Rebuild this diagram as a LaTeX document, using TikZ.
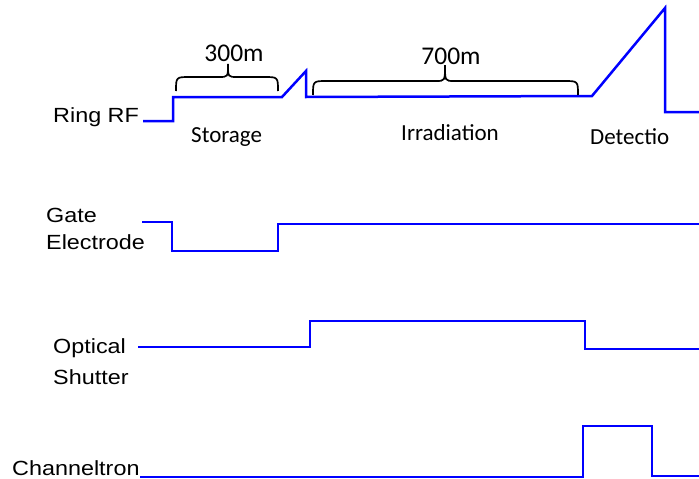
\documentclass[tikz,border=0pt]{standalone}
\usepackage{fontspec}
\setmainfont{Liberation Sans}
\newfontfamily\labfont[FakeStretch=1.14]{Liberation Sans}
\newfontfamily\calfont{Carlito}
\begin{document}
\begin{tikzpicture}[x=1pt,y=-1pt,
  lab/.style={inner sep=0pt,font=\labfont\fontsize{20.5}{24}\selectfont},
  phase/.style={inner sep=0pt,font=\calfont\fontsize{23}{27}\selectfont},
  meas/.style={inner sep=0pt,font=\calfont\fontsize{25.5}{29}\selectfont},
  rf/.style={draw=blue,line width=2.5pt,line join=miter},
  sig/.style={draw=blue,line width=1.4pt},
  brc/.style={draw=black,line width=1.7pt}]
\useasboundingbox (0,0) rectangle (699,479);
% labels
\node[lab,anchor=base west] (rfl) at (53,122) {Ring RF};
\node[lab,anchor=base west] (gl1) at (46,222) {Gate};
\node[lab,anchor=base west] (gl2) at (46,249) {Electrode};
\node[lab,anchor=base west] (ol1) at (53,353) {Optical};
\node[lab,anchor=base west] (ol2) at (53,384) {Shutter};
\node[lab,anchor=base west] (cl) at (12,475) {Channeltron};
% phase labels
\node[phase,anchor=base west] (st) at (191,142) {Storage};
\node[phase,anchor=base] (ir) at (450,140) {Irradiation};
\node[phase,anchor=base west] (de) at (590,144) {Detectio};
\node[meas,anchor=base] (t3) at (234,61) {300m};
\node[meas,anchor=base] (t7) at (451,64) {700m};
% Ring RF trace
\draw[rf] (143,121) -- (173,121) -- (173,97) -- (282,97) -- (306,71) -- (306,97)
  -- (592,96) -- (665,8) -- (665,112) -- (699,112);
% braces
\draw[brc] (176,91) .. controls (176,77) .. (190,77) -- (219,77)
  .. controls (228,77) .. (228,64) .. controls (228,77) .. (237,77)
  -- (264,77) .. controls (278,77) .. (278,91);
\draw[brc] (313,95) .. controls (313,81) .. (327,81) -- (436,81)
  .. controls (445,81) .. (445,65) .. controls (445,81) .. (454,81)
  -- (564,81) .. controls (578,81) .. (578,95);
% Gate electrode
\draw[sig] (142,222) -- (172,222) -- (172,251) -- (278,251) -- (278,224) -- (699,224);
% Optical shutter
\draw[sig] (138,347) -- (310,347) -- (310,321) -- (585,321) -- (585,349) -- (699,349);
% Channeltron
\draw[sig] (140,477) -- (583,477) -- (583,426) -- (652,426) -- (652,476) -- (699,476);
\end{tikzpicture}
\end{document}
